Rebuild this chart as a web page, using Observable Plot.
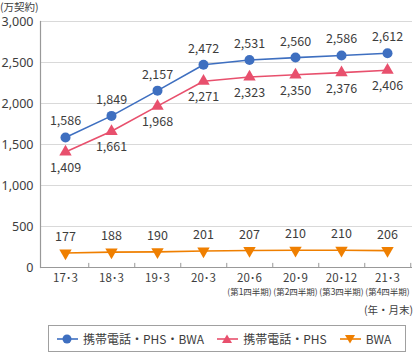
<!DOCTYPE html>
<html><head><meta charset="utf-8">
<script src="https://cdn.jsdelivr.net/npm/d3@7"></script>
<script src="https://cdn.jsdelivr.net/npm/@observablehq/plot@0.6"></script>
<style>
body{margin:0;background:#fff;font-family:"Noto Sans CJK JP","Noto Sans",sans-serif;}
#wrap{position:relative;width:414px;height:352px;overflow:hidden;}
#legend{position:absolute;left:48px;top:325px;width:358px;height:27px;border:1px solid #a0a0a0;box-sizing:border-box;display:flex;align-items:center;font-size:12px;color:#3d3d3d;}
#legend .it{display:flex;align-items:center;margin-left:8px;}
#legend svg{margin-right:5px;}
#unit{position:absolute;left:0;top:1px;font-size:10.5px;line-height:12px;color:#3d3d3d;}
#ym{position:absolute;right:1px;top:302px;font-size:10.5px;color:#3d3d3d;}
</style></head>
<body><div id="wrap"><div id="chart"></div><div id="unit">(万契約)</div><div id="ym">(年・月末)</div><div id="legend"></div></div>
<script>
const categories = ["17･3","18･3","19･3","20･3","20･6","20･9","20･12","21･3"];
const subLabels = ["","","","","(第1四半期)","(第2四半期)","(第3四半期)","(第4四半期)"];
const seriesNames = ["携帯電話・PHS・BWA","携帯電話・PHS","BWA"];
const allValues = [1586,1849,2157,2472,2531,2560,2586,2612];
const phsValues = [1409,1661,1968,2271,2323,2350,2376,2406];
const bwaValues = [177,188,190,201,207,210,210,206];
const yTicks = [0,500,1000,1500,2000,2500,3000];
const colors = ["#3e6fc0","#e8506d","#ef7f00"];

const rows = (vals, s) => vals.map((v,i)=>({cat:categories[i], value:v, series:s}));
const dAll = rows(allValues, seriesNames[0]);
const dPhs = rows(phsValues, seriesNames[1]);
const dBwa = rows(bwaValues, seriesNames[2]);
const subs = categories.map((c,i)=>({cat:c, label:subLabels[i]}));
const fmt = d3.format(",");
const txt = "#3d3d3d";
const half = 372/8/2;

const plot = Plot.plot({
  width:414, height:318,
  marginLeft:40, marginRight:2, marginTop:21, marginBottom:51,
  style:{fontFamily:'"Noto Sans CJK JP","Noto Sans",sans-serif', color:txt, background:"transparent"},
  x:{type:"point", domain:categories, padding:0.5},
  y:{domain:[0,3000], ticks:yTicks},
  marks:[
    Plot.ruleY(yTicks.filter(d=>d>0), {y:d=>d, stroke:"#d9d9d9", strokeWidth:1.2}),
    Plot.axisY(yTicks, {tickSize:0, tickPadding:7, tickFormat:fmt, fontSize:12.5, fontFamily:'"Noto Sans",sans-serif', label:null, fill:txt}),
    Plot.axisX({tickSize:0, tickPadding:6, fontSize:11.5, label:null, fill:txt}),
    Plot.text(subs, {x:"cat", text:"label", frameAnchor:"bottom", dy:27, fontSize:8.5, fill:txt, style:"letter-spacing:-0.4px"}),
    Plot.ruleX(categories, {x:d=>d, dx:half, y1:0, y2:50, stroke:"#999", strokeWidth:1}),
    Plot.ruleY([0], {stroke:"#999", strokeWidth:1.2}),
    Plot.frame({anchor:"left", stroke:"#999", strokeWidth:1.2}),
    Plot.line(dAll, {x:"cat", y:"value", stroke:colors[0], strokeWidth:1.6}),
    Plot.line(dPhs, {x:"cat", y:"value", stroke:colors[1], strokeWidth:1.6}),
    Plot.line(dBwa, {x:"cat", y:"value", stroke:colors[2], strokeWidth:1.6}),
    Plot.dot(dAll, {x:"cat", y:"value", r:5, fill:colors[0], stroke:"none"}),
    Plot.dot(dPhs, {x:"cat", y:"value", symbol:"triangle", r:4.6, fill:colors[1], stroke:"none"}),
    Plot.dot(dBwa, {x:"cat", y:"value", symbol:"triangle", rotate:180, r:4.6, fill:colors[2], stroke:"none"}),
    Plot.text(dAll, {x:"cat", y:"value", text:d=>fmt(d.value), dy:-16, fontSize:12.5, fill:txt}),
    Plot.text(dPhs, {x:"cat", y:"value", text:d=>fmt(d.value), dy:16, fontSize:12.5, fill:txt}),
    Plot.text(dBwa, {x:"cat", y:"value", text:d=>fmt(d.value), dy:-16, fontSize:12.5, fill:txt})
  ]
});
document.getElementById("chart").appendChild(plot);

const sym = [
  c=>`<circle cx="10" cy="6" r="4.5" fill="${c}"/>`,
  c=>`<path d="M10,1.5 L15,10 L5,10Z" fill="${c}"/>`,
  c=>`<path d="M10,10.5 L15,2 L5,2Z" fill="${c}"/>`
];
const lg = document.getElementById("legend");
seriesNames.forEach((n,i)=>{
  const it = document.createElement("div"); it.className="it";
  if(i>0) it.style.marginLeft = "13px";
  it.innerHTML = `<svg width="21" height="12"><line x1="0" x2="21" y1="6" y2="6" stroke="${colors[i]}" stroke-width="1.6"/>${sym[i](colors[i])}</svg><span>${n}</span>`;
  lg.appendChild(it);
});
</script></body></html>
